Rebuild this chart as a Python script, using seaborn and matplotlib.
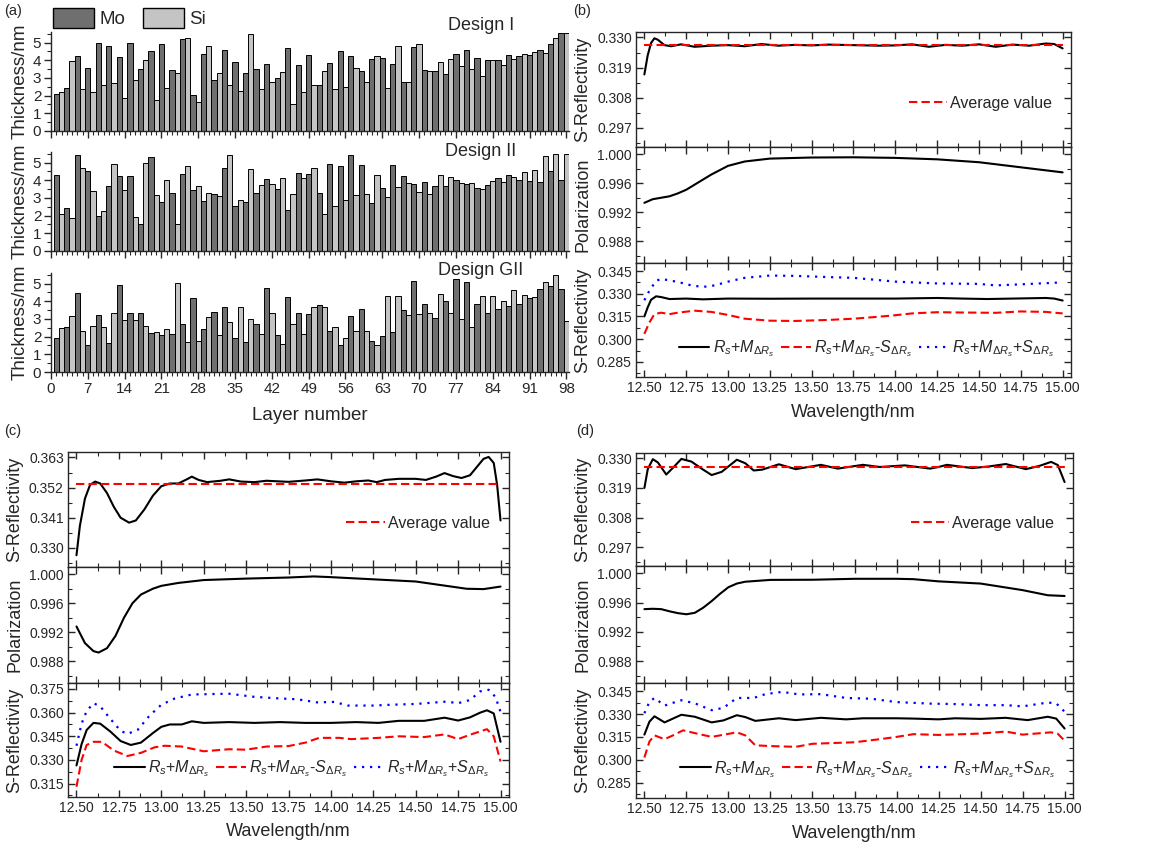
import numpy as np
import pandas as pd
import matplotlib
matplotlib.use("Agg")
import matplotlib.pyplot as plt
import matplotlib.patches as mpatches
from matplotlib.ticker import MultipleLocator, FormatStrFormatter
import seaborn as sns

# ---- layer thickness data (layer 1 = Mo, then alternating Si / Mo) ----
design1 = [2.12, 2.20, 2.46, 3.94, 4.26, 2.39, 3.56, 2.23, 4.96, 2.60,
           4.81, 2.73, 4.17, 1.89, 5.00, 2.86, 3.50, 4.00, 4.55, 1.78,
           4.90, 2.44, 3.45, 3.26, 5.19, 5.28, 2.06, 1.65, 4.34, 4.83,
           2.88, 3.26, 4.58, 2.63, 3.92, 2.29, 3.26, 5.47, 3.52, 2.35,
           3.79, 2.80, 2.97, 3.35, 4.70, 1.52, 3.71, 2.23, 4.32, 2.58,
           2.63, 3.41, 3.83, 2.35, 4.55, 2.48, 4.26, 3.54, 3.41, 2.77,
           4.05, 4.26, 4.13, 2.46, 3.79, 4.83, 2.80, 2.75, 4.75, 4.92,
           3.45, 3.37, 3.41, 3.88, 3.22, 4.05, 4.34, 3.69, 4.56, 3.48,
           4.15, 3.10, 4.02, 4.02, 4.00, 3.71, 4.28, 4.05, 4.22, 4.38,
           4.30, 4.47, 4.56, 4.41, 4.94, 5.25, 5.53, 5.53]
design2 = [4.30, 2.10, 2.45, 1.85, 5.45, 4.70, 4.50, 3.40, 2.00, 2.25,
           3.65, 4.90, 4.25, 3.45, 4.25, 1.90, 1.50, 4.95, 5.30, 3.15,
           2.80, 4.00, 3.30, 1.50, 4.35, 4.80, 3.45, 3.65, 2.85, 3.30,
           3.20, 3.10, 4.70, 5.45, 2.55, 2.90, 2.75, 4.65, 3.30, 3.75,
           4.05, 3.80, 3.50, 4.12, 2.30, 3.20, 4.40, 4.13, 4.36, 4.72,
           3.26, 2.09, 4.92, 2.55, 4.79, 2.87, 5.42, 3.17, 4.85, 3.21,
           2.72, 4.32, 3.57, 3.04, 4.89, 3.64, 4.23, 3.87, 3.79, 3.34,
           3.89, 3.23, 3.68, 4.30, 3.66, 4.17, 4.04, 3.85, 3.81, 3.87,
           3.57, 3.53, 3.74, 3.96, 4.11, 3.89, 4.30, 4.21, 4.02, 4.45,
           3.96, 4.60, 3.91, 5.38, 4.55, 5.49, 4.02, 5.49]
design_gii = [1.95, 2.50, 2.54, 3.14, 4.49, 2.31, 1.52, 2.58, 3.25, 2.52,
              1.65, 3.36, 4.94, 2.95, 3.36, 2.95, 3.36, 2.61, 2.20, 2.27,
              2.10, 2.46, 2.16, 5.04, 2.69, 1.67, 4.21, 1.73, 2.42, 3.12,
              3.42, 2.10, 3.65, 2.82, 1.95, 3.65, 1.71, 2.97, 2.74, 2.16,
              4.74, 3.31, 2.09, 1.60, 4.27, 2.74, 3.31, 2.16, 3.27, 3.70,
              3.78, 3.70, 2.31, 2.52, 1.52, 1.90, 3.16, 2.31, 3.59, 2.31,
              1.73, 1.52, 2.03, 4.30, 2.29, 4.32, 3.48, 3.25, 5.13, 3.27,
              3.82, 3.31, 3.08, 4.44, 4.00, 3.35, 5.28, 2.99, 5.09, 2.52,
              3.83, 4.30, 3.36, 4.30, 3.55, 4.02, 3.72, 4.66, 3.87, 4.34,
              4.21, 4.27, 4.68, 5.11, 4.89, 5.49, 4.68, 2.86]
design_names = ["Design I", "Design II", "Design GII"]
materials = ["Mo", "Si"]

# ---- panel (b) ----
b_top_wl = [12.50, 12.52, 12.54, 12.56, 12.58, 12.62, 12.66, 12.72, 12.80, 12.90, 13.00, 13.10, 13.20, 13.30, 13.40, 13.50,
            13.60, 13.75, 13.90, 14.00, 14.10, 14.20, 14.30, 14.40, 14.50, 14.60, 14.70, 14.80, 14.90, 14.95, 15.00]
b_top_rs = [0.3165, 0.3235, 0.3280, 0.3297, 0.3292, 0.3272, 0.3268, 0.3275, 0.3266, 0.3270, 0.3272, 0.3268, 0.3276, 0.3270, 0.3273, 0.3271,
            0.3274, 0.3272, 0.3270, 0.3271, 0.3275, 0.3266, 0.3273, 0.3270, 0.3275, 0.3266, 0.3274, 0.3270, 0.3278, 0.3276, 0.3260]
b_avg = 0.3273
b_pol_wl = [12.50, 12.55, 12.60, 12.65, 12.70, 12.75, 12.80, 12.85, 12.90, 12.95, 13.00, 13.10, 13.25, 13.50, 13.75, 14.00, 14.25, 14.50, 14.75, 15.00]
b_pol = [0.9933, 0.9938, 0.9940, 0.9942, 0.9946, 0.9951, 0.9958, 0.9965, 0.9972, 0.9978, 0.9984, 0.9990, 0.9994, 0.99955, 0.99958, 0.9995,
         0.9993, 0.9989, 0.9982, 0.9975]
b_mean_wl = [12.50, 12.52, 12.54, 12.57, 12.60, 12.65, 12.75, 12.85, 13.00, 13.25, 13.50, 13.75, 14.00, 14.25, 14.40, 14.55, 14.70, 14.90, 14.95, 15.00]
b_mean = [0.3150, 0.3210, 0.3260, 0.3283, 0.3278, 0.3265, 0.3268, 0.3263, 0.3268, 0.3267, 0.3268, 0.3268, 0.3268, 0.3272, 0.3268, 0.3265,
          0.3268, 0.3272, 0.3268, 0.3255]
b_low_wl = [12.50, 12.53, 12.56, 12.60, 12.65, 12.70, 12.80, 12.90, 13.00, 13.10, 13.25, 13.40, 13.60, 13.75, 13.90, 14.00, 14.10, 14.25,
            14.40, 14.60, 14.75, 14.90, 15.00]
b_low = [0.3035, 0.3110, 0.3165, 0.3175, 0.3165, 0.3175, 0.3188, 0.3180, 0.3160, 0.3135, 0.3122, 0.3120, 0.3127, 0.3135, 0.3148, 0.3158,
         0.3170, 0.3178, 0.3176, 0.3174, 0.3183, 0.3180, 0.3170]
b_high_wl = [12.50, 12.53, 12.57, 12.60, 12.65, 12.70, 12.78, 12.85, 12.92, 13.00, 13.10, 13.25, 13.40, 13.60, 13.75, 13.90, 14.00, 14.25,
             14.50, 14.60, 14.75, 15.00]
b_high = [0.3257, 0.3320, 0.3385, 0.3398, 0.3388, 0.3378, 0.3355, 0.3345, 0.3355, 0.3380, 0.3405, 0.3420, 0.3418, 0.3410, 0.3405, 0.3390,
          0.3380, 0.3368, 0.3365, 0.3355, 0.3362, 0.3375]

# ---- panel (c) ----
c_top_wl = [12.50, 12.52, 12.55, 12.58, 12.61, 12.64, 12.68, 12.72, 12.76, 12.81, 12.85, 12.90, 12.95, 13.00, 13.05, 13.10, 13.15, 13.18,
            13.22, 13.27, 13.35, 13.40, 13.47, 13.55, 13.62, 13.75, 13.85, 13.92, 14.00, 14.08, 14.15, 14.22, 14.27, 14.32, 14.40, 14.50,
            14.56, 14.62, 14.67, 14.72, 14.77, 14.82, 14.86, 14.90, 14.93, 14.96, 14.98, 15.00]
c_top_rs = [0.3273, 0.3380, 0.3480, 0.3530, 0.3542, 0.3535, 0.3500, 0.3450, 0.3410, 0.3392, 0.3400, 0.3440, 0.3490, 0.3525, 0.3535, 0.3535,
            0.3550, 0.3560, 0.3548, 0.3540, 0.3545, 0.3550, 0.3542, 0.3540, 0.3545, 0.3541, 0.3546, 0.3550, 0.3543, 0.3538, 0.3543, 0.3546,
            0.3540, 0.3548, 0.3552, 0.3552, 0.3548, 0.3560, 0.3573, 0.3562, 0.3555, 0.3565, 0.3595, 0.3625, 0.3632, 0.3610, 0.3530, 0.3400]
c_avg = 0.3532
c_pol_wl = [12.50, 12.55, 12.60, 12.63, 12.68, 12.73, 12.78, 12.83, 12.88, 12.95, 13.00, 13.10, 13.25, 13.50, 13.75, 13.90, 14.00, 14.25,
            14.50, 14.65, 14.80, 14.90, 15.00]
c_pol = [0.9928, 0.9905, 0.9894, 0.9892, 0.9898, 0.9915, 0.9940, 0.9960, 0.9972, 0.9980, 0.9984, 0.9988, 0.9992, 0.9994, 0.99955, 0.9997,
         0.9996, 0.9993, 0.9990, 0.9985, 0.9980, 0.99795, 0.9983]
c_mean_wl = [12.50, 12.53, 12.56, 12.60, 12.64, 12.70, 12.76, 12.82, 12.88, 12.95, 13.00, 13.05, 13.12, 13.18, 13.25, 13.40, 13.55, 13.70,
             13.85, 14.00, 14.15, 14.28, 14.40, 14.55, 14.67, 14.75, 14.82, 14.88, 14.92, 14.96, 15.00]
c_mean = [0.3265, 0.3400, 0.3490, 0.3535, 0.3530, 0.3480, 0.3420, 0.3395, 0.3410, 0.3470, 0.3510, 0.3525, 0.3525, 0.3545, 0.3535, 0.3540,
          0.3535, 0.3540, 0.3535, 0.3535, 0.3540, 0.3535, 0.3548, 0.3548, 0.3568, 0.3550, 0.3570, 0.3600, 0.3615, 0.3595, 0.3415]
c_low_wl = [12.50, 12.53, 12.56, 12.60, 12.65, 12.72, 12.80, 12.88, 12.96, 13.02, 13.12, 13.25, 13.40, 13.50, 13.62, 13.75, 13.85, 13.93,
            14.05, 14.12, 14.28, 14.40, 14.55, 14.67, 14.75, 14.82, 14.92, 14.96, 15.00]
c_low = [0.3130, 0.3300, 0.3395, 0.3415, 0.3415, 0.3360, 0.3325, 0.3345, 0.3380, 0.3390, 0.3385, 0.3355, 0.3368, 0.3365, 0.3385, 0.3388,
         0.3410, 0.3440, 0.3440, 0.3432, 0.3440, 0.3450, 0.3445, 0.3462, 0.3432, 0.3460, 0.3495, 0.3450, 0.3290]
c_high_wl = [12.50, 12.53, 12.56, 12.60, 12.64, 12.70, 12.76, 12.80, 12.86, 12.93, 13.00, 13.08, 13.18, 13.30, 13.40, 13.55, 13.70, 13.80,
             13.92, 14.02, 14.10, 14.25, 14.35, 14.50, 14.62, 14.68, 14.75, 14.82, 14.88, 14.93, 14.97, 15.00]
c_high = [0.3390, 0.3530, 0.3610, 0.3660, 0.3640, 0.3560, 0.3485, 0.3465, 0.3490, 0.3580, 0.3650, 0.3690, 0.3715, 0.3718, 0.3720, 0.3700,
          0.3690, 0.3685, 0.3665, 0.3668, 0.3645, 0.3645, 0.3650, 0.3655, 0.3665, 0.3670, 0.3660, 0.3680, 0.3735, 0.3745, 0.3700, 0.3605]

# ---- panel (d) ----
d_top_wl = [12.50, 12.52, 12.55, 12.58, 12.63, 12.67, 12.72, 12.78, 12.84, 12.90, 12.96, 13.01, 13.05, 13.10, 13.15, 13.20, 13.30, 13.40,
            13.55, 13.65, 13.80, 13.90, 14.05, 14.20, 14.25, 14.30, 14.45, 14.55, 14.65, 14.77, 14.85, 14.92, 14.96, 15.00]
d_top_rs = [0.3190, 0.3260, 0.3297, 0.3285, 0.3240, 0.3265, 0.3298, 0.3288, 0.3262, 0.3238, 0.3250, 0.3275, 0.3295, 0.3282, 0.3255, 0.3258,
            0.3278, 0.3260, 0.3276, 0.3262, 0.3276, 0.3268, 0.3274, 0.3262, 0.3268, 0.3276, 0.3264, 0.3270, 0.3279, 0.3260, 0.3272, 0.3287,
            0.3275, 0.3212]
d_avg = 0.3267
d_pol_wl = [12.50, 12.55, 12.60, 12.65, 12.70, 12.75, 12.80, 12.85, 12.90, 12.95, 13.00, 13.05, 13.10, 13.25, 13.50, 13.75, 14.00, 14.10,
            14.25, 14.50, 14.75, 14.90, 15.00]
d_pol = [0.9951, 0.99515, 0.9951, 0.9948, 0.99455, 0.9944, 0.9946, 0.9953, 0.9962, 0.9972, 0.9981, 0.9986, 0.99885, 0.9991, 0.99912,
         0.99925, 0.99925, 0.9992, 0.9989, 0.9986, 0.9977, 0.9970, 0.9969]
d_mean_wl = [12.50, 12.53, 12.56, 12.62, 12.67, 12.72, 12.80, 12.90, 12.97, 13.05, 13.10, 13.16, 13.30, 13.40, 13.55, 13.70, 13.80, 14.00,
             14.10, 14.25, 14.35, 14.50, 14.65, 14.78, 14.90, 14.95, 15.00]
d_mean = [0.3165, 0.3250, 0.3285, 0.3245, 0.3270, 0.3295, 0.3282, 0.3245, 0.3258, 0.3292, 0.3280, 0.3255, 0.3272, 0.3260, 0.3275, 0.3265,
          0.3272, 0.3272, 0.3270, 0.3265, 0.3272, 0.3268, 0.3275, 0.3260, 0.3282, 0.3270, 0.3205]
d_low_wl = [12.50, 12.53, 12.56, 12.62, 12.67, 12.73, 12.80, 12.90, 13.05, 13.10, 13.16, 13.25, 13.40, 13.50, 13.75, 13.90, 14.00, 14.10,
            14.25, 14.40, 14.50, 14.65, 14.75, 14.92, 14.96, 15.00]
d_low = [0.3015, 0.3120, 0.3160, 0.3135, 0.3160, 0.3193, 0.3175, 0.3150, 0.3180, 0.3160, 0.3095, 0.3090, 0.3085, 0.3105, 0.3115, 0.3135,
         0.3150, 0.3168, 0.3163, 0.3168, 0.3172, 0.3185, 0.3165, 0.3180, 0.3170, 0.3125]
d_high_wl = [12.50, 12.53, 12.56, 12.62, 12.66, 12.72, 12.80, 12.90, 12.97, 13.05, 13.15, 13.22, 13.32, 13.42, 13.55, 13.70, 13.85, 14.00,
             14.20, 14.35, 14.50, 14.65, 14.75, 14.90, 14.95, 15.00]
d_high = [0.3305, 0.3380, 0.3405, 0.3355, 0.3370, 0.3390, 0.3370, 0.3325, 0.3340, 0.3405, 0.3405, 0.3430, 0.3445, 0.3428, 0.3430, 0.3405,
          0.3400, 0.3378, 0.3368, 0.3365, 0.3358, 0.3358, 0.3350, 0.3375, 0.3370, 0.3315]

sns.set_theme(style="ticks")
plt.rcParams["font.family"] = ["Liberation Sans", "DejaVu Sans"]
plt.rcParams["mathtext.fontset"] = "custom"
plt.rcParams["mathtext.rm"] = "Liberation Sans"
plt.rcParams["mathtext.it"] = "Liberation Sans:italic"
plt.rcParams["axes.linewidth"] = 1.0

fig = plt.figure(figsize=(11.6, 8.49), dpi=100)
W, H = 1160, 849


def px_axes(x0, y0, x1, y1):
    # pixel box (top-left origin) -> figure axes
    return fig.add_axes([x0 / W, 1 - y1 / H, (x1 - x0) / W, (y1 - y0) / H])


# =========== (a) layer thickness ===========
mo_col, si_col = "#6f6f6f", "#c4c4c4"
a_boxes = [(51, 32, 569, 131), (51, 152, 569, 251), (51, 273, 569, 372)]
design_text_y = [1.07, 1.01, 1.03]
for k, (vals, name) in enumerate(zip([design1, design2, design_gii], design_names)):
    ax = px_axes(*a_boxes[k])
    df = pd.DataFrame({"layer": np.arange(1, len(vals) + 1), "thickness": vals})
    df["material"] = np.where(df["layer"] % 2 == 1, materials[0], materials[1])
    sns.barplot(data=df, x="layer", y="thickness", hue="material", native_scale=True, dodge=False,
                palette={"Mo": mo_col, "Si": si_col}, width=1.0, edgecolor="black", linewidth=0.7,
                errorbar=None, legend=False, ax=ax)
    ax.set_xlim(0, 98.5)
    ax.set_ylim(0, 5.6)
    sns.despine(ax=ax)
    ax.xaxis.set_major_locator(MultipleLocator(7))
    ax.xaxis.set_minor_locator(MultipleLocator(1))
    ax.yaxis.set_major_locator(MultipleLocator(1))
    ax.yaxis.set_minor_locator(MultipleLocator(0.5))
    ax.tick_params(which="major", direction="out", length=5, width=1, labelsize=11, pad=2)
    ax.tick_params(which="minor", direction="out", length=3, width=0.8)
    ax.set_ylabel("Thickness/nm", fontsize=13.5, labelpad=3)
    ax.text(0.83, design_text_y[k], name, transform=ax.transAxes, ha="center", va="center", fontsize=13)
    if k < 2:
        ax.set_xlabel("")
        ax.tick_params(axis="x", labelbottom=False)
    else:
        ax.set_xlabel("Layer number", fontsize=13.5, labelpad=8)
    if k == 0:
        handles = [mpatches.Patch(facecolor=mo_col, edgecolor="black", label="Mo"),
                   mpatches.Patch(facecolor=si_col, edgecolor="black", label="Si")]
        ax.legend(handles=handles, loc="lower left", bbox_to_anchor=(0.0, 1.02), ncol=2, frameon=False,
                  fontsize=13.5, handlelength=2.2, handleheight=1.25, handletextpad=0.3, columnspacing=0.9,
                  borderpad=0, borderaxespad=0.1)


# =========== (b)(c)(d) reflectivity / polarization ===========
def style_axes(ax, ylim, ymaj, show_x):
    ax.set_xlim(12.45, 15.05)
    ax.set_ylim(*ylim)
    ax.xaxis.set_major_locator(MultipleLocator(0.25))
    ax.xaxis.set_minor_locator(MultipleLocator(0.125))
    ax.xaxis.set_major_formatter(FormatStrFormatter("%.2f"))
    ax.yaxis.set_major_locator(MultipleLocator(ymaj))
    ax.yaxis.set_minor_locator(MultipleLocator(ymaj / 2))
    ax.yaxis.set_major_formatter(FormatStrFormatter("%.3f"))
    ax.tick_params(which="both", direction="in", right=True, top=True, labelsize=10, pad=3)
    ax.tick_params(which="major", length=5, width=1)
    ax.tick_params(which="minor", length=3, width=0.8)
    if not show_x:
        ax.tick_params(axis="x", labelbottom=False)
    ax.set_xlabel("")


red_dash = (0, (4, 2))
blue_dot = (0, (1, 2.6))
panels = [
    dict(x0=636, x1=1071, ys=(32, 147, 263, 377), top_ylim=(0.290, 0.332), top_maj=0.011, bot_ylim=(0.275, 0.3503),
         top=(b_top_wl, b_top_rs), avg=b_avg, pol=(b_pol_wl, b_pol),
         mean=(b_mean_wl, b_mean), low=(b_low_wl, b_low), high=(b_high_wl, b_high), letter="(b)", lx=573, ly=4),
    dict(x0=68, x1=509, ys=(452, 567, 683, 797), top_ylim=(0.323, 0.365), top_maj=0.011, bot_ylim=(0.3065, 0.3788),
         top=(c_top_wl, c_top_rs), avg=c_avg, pol=(c_pol_wl, c_pol),
         mean=(c_mean_wl, c_mean), low=(c_low_wl, c_low), high=(c_high_wl, c_high), letter="(c)", lx=4, ly=424),
    dict(x0=636, x1=1073, ys=(453, 566, 683, 798), top_ylim=(0.290, 0.332), top_maj=0.011, bot_ylim=(0.275, 0.3503),
         top=(d_top_wl, d_top_rs), avg=d_avg, pol=(d_pol_wl, d_pol),
         mean=(d_mean_wl, d_mean), low=(d_low_wl, d_low), high=(d_high_wl, d_high), letter="(d)", lx=576, ly=424),
]

lbl_mean = r"$R_s$+$M_{\Delta R_s}$"
lbl_low = r"$R_s$+$M_{\Delta R_s}$-$S_{\Delta R_s}$"
lbl_high = r"$R_s$+$M_{\Delta R_s}$+$S_{\Delta R_s}$"

for p in panels:
    y0, y1, y2, y3 = p["ys"]
    ax_top = px_axes(p["x0"], y0, p["x1"], y1)
    ax_pol = px_axes(p["x0"], y1, p["x1"], y2)
    ax_bot = px_axes(p["x0"], y2, p["x1"], y3)

    # top: S-reflectivity with average value
    sns.lineplot(x=p["top"][0], y=p["top"][1], ax=ax_top, color="black", lw=1.5)
    sns.lineplot(x=[12.5, 15.0], y=[p["avg"], p["avg"]], ax=ax_top, color="red", lw=1.5,
                 linestyle=red_dash, label="Average value")
    style_axes(ax_top, p["top_ylim"], p["top_maj"], False)
    ax_top.set_ylabel("S-Reflectivity", fontsize=13)
    ax_top.legend(loc="center right", bbox_to_anchor=(0.975, 0.38), frameon=False, fontsize=11.5,
                  handlelength=2.4, handletextpad=0.2, borderpad=0)

    # middle: polarization
    sns.lineplot(x=p["pol"][0], y=p["pol"][1], ax=ax_pol, color="black", lw=1.5)
    style_axes(ax_pol, (0.985, 1.001), 0.004, False)
    ax_pol.set_ylabel("Polarization", fontsize=13)

    # bottom: mean and spread
    sns.lineplot(x=p["mean"][0], y=p["mean"][1], ax=ax_bot, color="black", lw=1.5, label=lbl_mean)
    sns.lineplot(x=p["low"][0], y=p["low"][1], ax=ax_bot, color="red", lw=1.5, linestyle=red_dash, label=lbl_low)
    sns.lineplot(x=p["high"][0], y=p["high"][1], ax=ax_bot, color="blue", lw=1.6, linestyle=blue_dot, label=lbl_high)
    style_axes(ax_bot, p["bot_ylim"], 0.015, True)
    ax_bot.set_ylabel("S-Reflectivity", fontsize=13)
    ax_bot.set_xlabel("Wavelength/nm", fontsize=13, labelpad=6)
    ax_bot.legend(loc="center", bbox_to_anchor=(0.53, 0.25), ncol=3, frameon=False, fontsize=11.5,
                  handlelength=1.9, handletextpad=0.2, columnspacing=0.4, borderpad=0)

    fig.text(p["lx"] / W, 1 - p["ly"] / H, p["letter"], ha="left", va="top", fontsize=10.5)

fig.text(4 / W, 1 - 4 / H, "(a)", ha="left", va="top", fontsize=10.5)

fig.savefig("out.png", dpi=100)
